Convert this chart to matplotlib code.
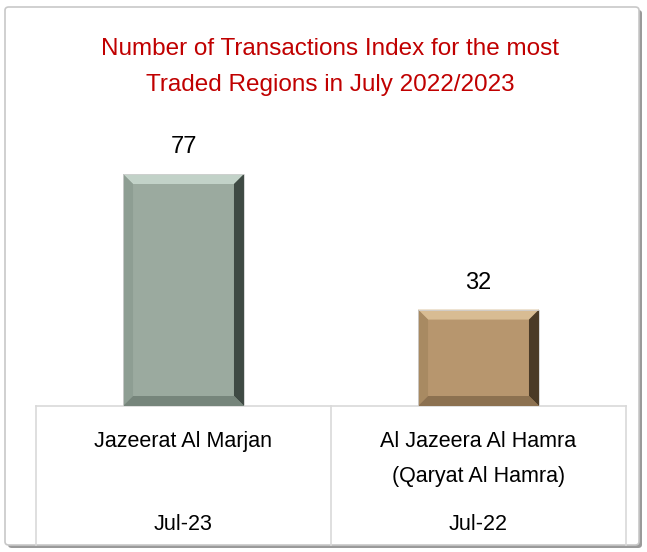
import matplotlib
matplotlib.use("Agg")
import matplotlib.pyplot as plt
from matplotlib.patches import FancyBboxPatch, Polygon
from matplotlib import font_manager

categories = ["Jazeerat Al Marjan", "Al Jazeera Al Hamra\n(Qaryat Al Hamra)"]
periods = ["Jul-23", "Jul-22"]
values = [77, 32]
title = "Number of Transactions Index for the most\nTraded Regions in July 2022/2023"

face_colors = ["#9BAA9F", "#B7966E"]
top_colors = ["#C2D2C8", "#D8BC93"]
left_colors = ["#8E9E93", "#A88A62"]
right_colors = ["#3F4A44", "#4A3A26"]
bottom_colors = ["#76857B", "#8C7150"]

names = {f.name for f in font_manager.fontManager.ttflist}
narrow = "Liberation Sans Narrow" if "Liberation Sans Narrow" in names else "Liberation Sans"

W, H = 647, 552
fig = plt.figure(figsize=(W / 100, H / 100), dpi=100)
fig.patch.set_facecolor("white")

# outer frame with shadow
shadow = FancyBboxPatch((8 / W, 4 / H), 634 / W, 538 / H,
                        boxstyle="round,pad=0,rounding_size=0.006",
                        transform=fig.transFigure, facecolor="#9a9a9a",
                        edgecolor="none", zorder=-2)
fig.patches.append(shadow)
frame = FancyBboxPatch((5 / W, 7 / H), 634 / W, 538 / H,
                       boxstyle="round,pad=0,rounding_size=0.006",
                       transform=fig.transFigure, facecolor="white",
                       edgecolor="#c8c8c8", linewidth=1.2, zorder=-1)
fig.patches.append(frame)

base_px, top_px = 406, 120
left_px, right_px = 36, 626
ax = fig.add_axes([left_px / W, (H - base_px) / H,
                   (right_px - left_px) / W, (base_px - top_px) / H])
ax.set_facecolor("none")
ax.set_xlim(-0.5, 1.5)
px_per_unit = 3.013
ax.set_ylim(0, (base_px - top_px) / px_per_unit)
ax.axis("off")

x = list(range(len(values)))
bars = ax.bar(x, values, width=0.41, color=face_colors, edgecolor="none", zorder=2)

# bevel effect derived from bar geometry
bev_x = 10 / (right_px - left_px) * 2.0
bev_y = 10 / px_per_unit
for i, b in enumerate(bars):
    x0, x1 = b.get_x(), b.get_x() + b.get_width()
    y0, y1 = 0, b.get_height()
    polys = [
        ([(x0, y1), (x1, y1), (x1 - bev_x, y1 - bev_y), (x0 + bev_x, y1 - bev_y)], top_colors[i]),
        ([(x0, y0), (x0 + bev_x, y0 + bev_y), (x0 + bev_x, y1 - bev_y), (x0, y1)], left_colors[i]),
        ([(x1, y0), (x1, y1), (x1 - bev_x, y1 - bev_y), (x1 - bev_x, y0 + bev_y)], right_colors[i]),
        ([(x0, y0), (x1, y0), (x1 - bev_x, y0 + bev_y), (x0 + bev_x, y0 + bev_y)], bottom_colors[i]),
    ]
    for pts, c in polys:
        ax.add_patch(Polygon(pts, closed=True, facecolor=c, edgecolor="none", zorder=3))
    ax.add_patch(Polygon([(x0, y0), (x1, y0), (x1, y1), (x0, y1)], closed=True,
                         facecolor="none", edgecolor="#d0d0d0", linewidth=0.6, zorder=4))
    ax.annotate(f"{values[i]}", (b.get_x() + b.get_width() / 2, y1),
                xytext=(0, 15), textcoords="offset points", ha="center", va="baseline",
                fontsize=17, family="Liberation Sans", color="black")

# category table
ax_h = base_px - top_px
def ay(px):
    return (base_px - px) / ax_h
xt = ax.get_xaxis_transform()
line_kw = dict(color="#d9d9d9", linewidth=1.2, clip_on=False, transform=xt, zorder=1)
ax.plot([-0.5, 1.5], [0, 0], **line_kw)
for xv in [-0.5, 0.5, 1.5]:
    ax.plot([xv, xv], [0, ay(545)], **line_kw)
for i, (cat, per) in enumerate(zip(categories, periods)):
    ax.text(i, ay(431), cat, transform=xt, ha="center", va="top",
            fontsize=15.5, family=narrow, linespacing=1.85, color="black")
    ax.text(i, ay(524), per, transform=xt, ha="center", va="center",
            fontsize=15.5, family=narrow, color="black")

fig.text(330 / W, 1 - 67 / H, title, ha="center", va="center",
         fontsize=17.5, family=narrow, color="#C00000", linespacing=1.88)

fig.savefig("out.png", dpi=100)
